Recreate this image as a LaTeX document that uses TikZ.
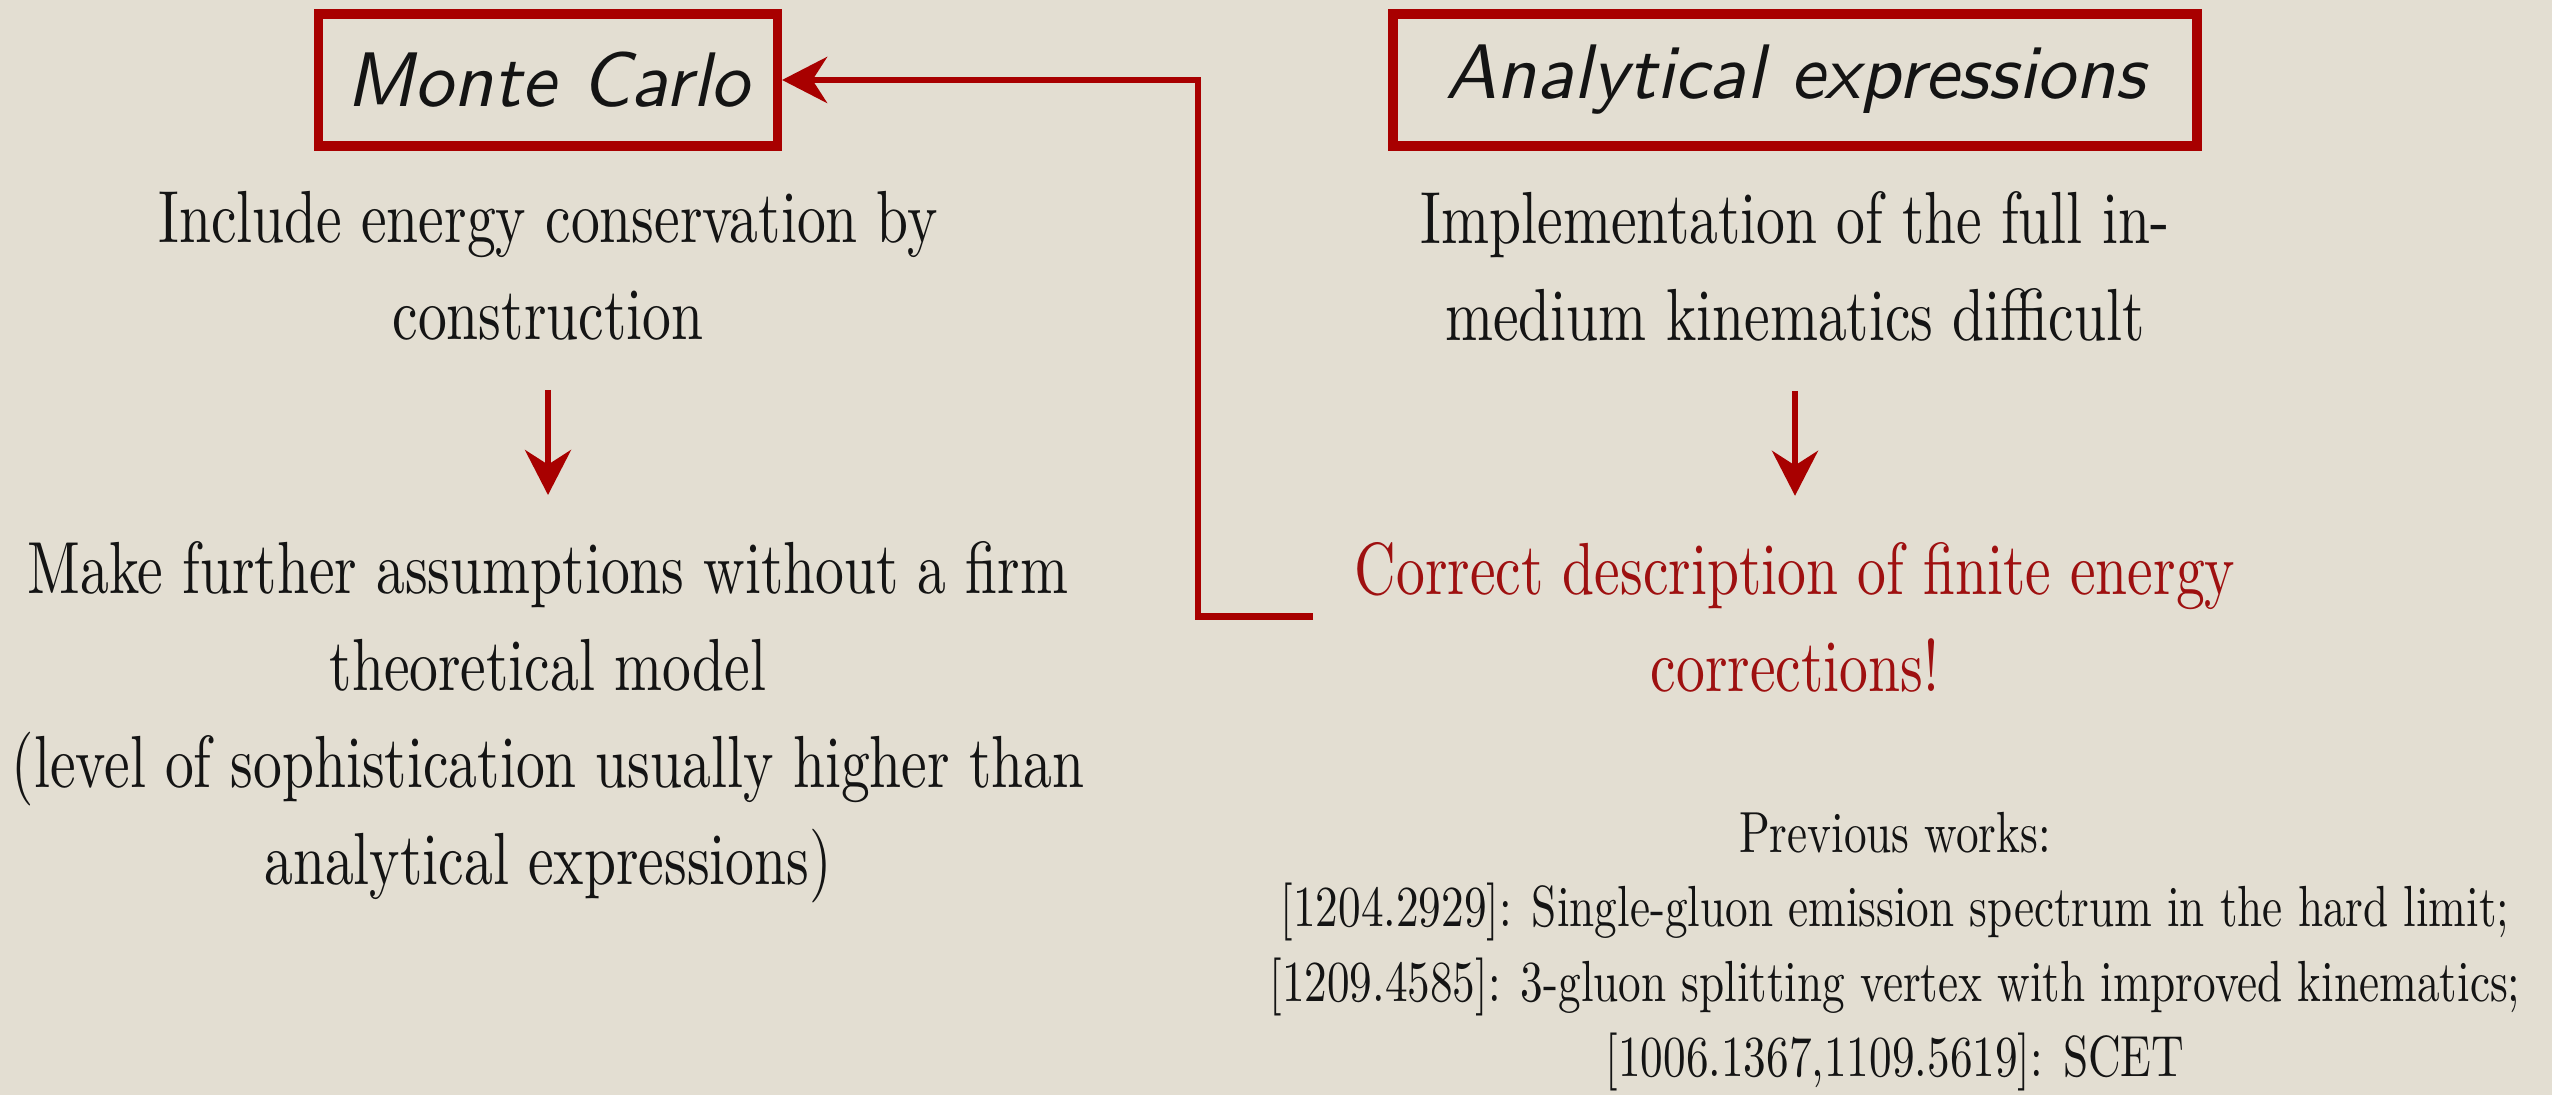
\documentclass[tikz,border=0pt]{standalone}
\usepackage{fontspec}
\setmainfont{lmroman10-regular}[Extension=.otf, FakeStretch=0.78]
\newfontfamily\handfont{lmsans10-oblique}[Extension=.otf]
\usepackage{xcolor}
\usetikzlibrary{arrows.meta,positioning}
\definecolor{paper}{RGB}{227,222,210}
\definecolor{brush}{RGB}{168,0,0}
\definecolor{darkred}{RGB}{158,16,16}
\definecolor{ink}{RGB}{20,20,20}

\begin{document}
\begin{tikzpicture}[
  node distance=4mm,
  box/.style={draw=brush, line width=2.6pt, minimum height=13.2mm, text=ink, font=\handfont\fontsize{22}{26}\selectfont},
  body/.style={align=center, inner sep=0pt, text=ink, font=\fontsize{21}{27.6}\selectfont},
  refs/.style={align=center, inner sep=0pt, text=ink, font=\fontsize{16.5}{21.3}\selectfont},
  arrow/.style={-{Stealth[length=4.5mm,width=4.6mm]}, brush, line width=1.5pt}
]
\fill[paper] (0,0) rectangle (25.52,10.95);
\useasboundingbox (0,0) rectangle (25.52,10.95);

% the two approaches
\node[box, minimum width=45.9mm] (mc) at (5.48,10.15) {Monte Carlo};
\node[box, minimum width=80.4mm] (ae) at (17.95,10.15) {Analytical expressions};

\node[body, below=of mc] (inc) {Include energy conservation by\\construction};
\node[body, below=20mm of inc] (make) {Make further assumptions without a firm\\theoretical model\\(level of sophistication usually higher than\\analytical expressions)};
\node[body, below=of ae] (impl) {Implementation of the full in-\\medium kinematics difficult};
\node[body, below=20mm of impl, text=darkred] (corr) {Correct description of finite energy\\corrections!};
\node[refs, below=11.8mm of corr, xshift=10mm] (prev) {Previous works:\\{[}1204.2929{]}: Single-gluon emission spectrum in the hard limit;\\{[}1209.4585{]}: 3-gluon splitting vertex with improved kinematics;\\{[}1006.1367,1109.5619{]}: SCET};

\draw[arrow, shorten <=4.9mm, shorten >=4.6mm] (inc) -- (make);
\draw[arrow, shorten <=4.9mm, shorten >=4.6mm] (impl) -- (corr);

% feedback to Monte Carlo
\coordinate[left=4.1mm of corr.west, yshift=0.1mm] (back);
\draw[arrow, line width=1.8pt] (back) -- ++(-1.15,0) |- (mc.east);
\end{tikzpicture}
\end{document}
